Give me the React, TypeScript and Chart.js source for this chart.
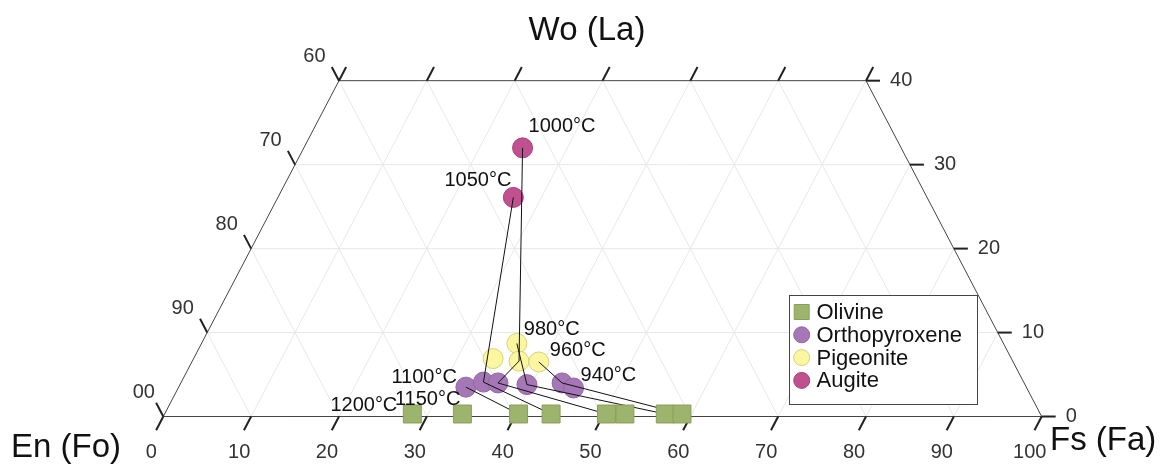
import React, { useEffect, useRef } from "react";
import { Chart, registerables } from "chart.js";
Chart.register(...registerables);

// ---- data (ternary compositions: Fs %, Wo %) ----
const olivineFs = [28.2, 33.9, 40.3, 44.0, 50.3, 52.4, 57.0, 58.9];
const olivineWo = [0.3, 0.3, 0.3, 0.3, 0.3, 0.3, 0.3, 0.3];
const opxFs = [32.7, 34.4, 36.1, 39.5, 43.4, 45.0];
const opxWo = [3.5, 4.1, 4.0, 3.8, 4.0, 3.4];
const pigFs = [34.1, 35.9, 37.2, 39.5];
const pigWo = [6.9, 8.7, 6.6, 6.5];
const augFs = [24.9, 26.8];
const augWo = [32.0, 26.1];

const seriesNames = ["Olivine", "Orthopyroxene", "Pigeonite", "Augite"];

// tie lines between coexisting phases: [phase, index]
const tieLines: [string, number][][] = [
  [["opx", 0], ["ol", 2]],
  [["aug", 1], ["opx", 1], ["ol", 3]],
  [["aug", 0], ["pig", 2], ["opx", 2], ["ol", 4]],
  [["pig", 1], ["opx", 3], ["ol", 6]],
  [["pig", 3], ["opx", 4], ["ol", 7]],
];

// temperature labels and the point each one belongs to
const tempLabels = ["1200°C", "1150°C", "1100°C", "1050°C", "1000°C", "980°C", "960°C", "940°C"];
const tempAnchors: [string, number][] = [
  ["ol", 0], ["ol", 1], ["opx", 0], ["aug", 1], ["aug", 0], ["pig", 1], ["pig", 3], ["opx", 5],
];

// axis tick labels
const fsTicks = [0, 10, 20, 30, 40, 50, 60, 70, 80, 90, 100];
const fsTopTicks = [0, 10, 20, 30, 40, 50, 60];
const enTicks = [60, 70, 80, 90, 100];
const woTicks = [0, 10, 20, 30, 40];
const gridSteps = [10, 20, 30, 40, 50, 60, 70, 80, 90];
const woGrid = [10, 20, 30];
const axisTitles = { top: "Wo (La)", left: "En (Fo)", right: "Fs (Fa)" };

// ---- helpers ----
const phaseFs: Record<string, number[]> = { ol: olivineFs, opx: opxFs, pig: pigFs, aug: augFs };
const phaseWo: Record<string, number[]> = { ol: olivineWo, opx: opxWo, pig: pigWo, aug: augWo };
const toXY = (fs: number, wo: number) => ({ x: fs + wo / 2, y: wo });
const phasePoints = (k: string) => phaseFs[k].map((f, i) => toXY(f, phaseWo[k][i]));

const FONT = '"Liberation Sans", Arial, sans-serif';

const colors = {
  ol: ["#9db46c", "#8a9f5b"],
  opx: ["#a677b6", "#9166a3"],
  pig: ["#fbf6a0", "#d8d07a"],
  aug: ["#c0508f", "#a6427b"],
};

const labelOffsets: { dx: number; dy: number; align: CanvasTextAlign }[] = [
  { dx: -15, dy: -9, align: "right" },
  { dx: -2, dy: -15, align: "right" },
  { dx: -9, dy: -10, align: "right" },
  { dx: -2, dy: -17, align: "right" },
  { dx: 6, dy: -21, align: "left" },
  { dx: 7, dy: -14, align: "left" },
  { dx: 11, dy: -11, align: "left" },
  { dx: 7, dy: -12, align: "left" },
];

const ternaryPlugin = {
  id: "ternary",
  beforeDatasetsDraw(chart: any) {
    const ctx: CanvasRenderingContext2D = chart.ctx;
    const xs = chart.scales.x;
    const ys = chart.scales.y;
    const P = (X: number, W: number) => ({ x: xs.getPixelForValue(X), y: ys.getPixelForValue(W) });
    const line = (a: any, b: any) => {
      ctx.beginPath();
      ctx.moveTo(a.x, a.y);
      ctx.lineTo(b.x, b.y);
      ctx.stroke();
    };
    ctx.save();
    // grid
    ctx.strokeStyle = "#e8e8e8";
    ctx.lineWidth = 1;
    woGrid.forEach((w) => line(P(w / 2, w), P(100 - w / 2, w)));
    gridSteps.forEach((f) => {
      const end = f <= 60 ? P(f + 20, 40) : P(f + (100 - f) / 2, 100 - f);
      line(P(f, 0), end);
    });
    gridSteps.forEach((e) => {
      const end = e <= 60 ? P(100 - e - 20, 40) : P((100 - e) / 2, 100 - e);
      line(P(100 - e, 0), end);
    });
    // frame
    const c0 = P(0, 0), c1 = P(20, 40), c2 = P(80, 40), c3 = P(100, 0);
    ctx.strokeStyle = "#444";
    ctx.lineWidth = 1;
    ctx.beginPath();
    ctx.moveTo(c0.x, c0.y);
    ctx.lineTo(c1.x, c1.y);
    ctx.lineTo(c2.x, c2.y);
    ctx.lineTo(c3.x, c3.y);
    ctx.closePath();
    ctx.stroke();
    // tick directions
    const unit = (a: any, b: any) => {
      const dx = b.x - a.x, dy = b.y - a.y;
      const l = Math.hypot(dx, dy);
      return { x: dx / l, y: dy / l };
    };
    const dL = unit(c0, c1); // up-right
    const dR = unit(c3, c2); // up-left
    const len = 15.5;
    ctx.strokeStyle = "#222";
    ctx.lineWidth = 2;
    ctx.fillStyle = "#333";
    ctx.font = `20px ${FONT}`;
    ctx.textBaseline = "middle";
    fsTicks.forEach((f) => {
      const s = P(f, 0);
      line(s, { x: s.x - dL.x * len, y: s.y - dL.y * len });
      ctx.textAlign = "center";
      ctx.fillText(String(f), s.x - 12, s.y + 36);
    });
    fsTopTicks.forEach((f) => {
      const s = P(f + 20, 40);
      line(s, { x: s.x + dL.x * len, y: s.y + dL.y * len });
    });
    enTicks.forEach((e) => {
      const w = 100 - e;
      const s = P(w / 2, w);
      line(s, { x: s.x + dR.x * len, y: s.y + dR.y * len });
      ctx.textAlign = "center";
      if (e === 100) {
        ctx.save();
        ctx.beginPath();
        ctx.rect(132, 0, 1168, 470);
        ctx.clip();
        ctx.fillText(String(e), s.x - 25, s.y - 24.5);
        ctx.restore();
      } else {
        ctx.fillText(String(e), s.x - 24.5, s.y - 24.5);
      }
    });
    woTicks.forEach((w) => {
      const s = P(100 - w / 2, w);
      line(s, { x: s.x + 14, y: s.y });
      ctx.textAlign = "left";
      ctx.fillText(String(w), s.x + 24, s.y);
    });
    // axis titles
    ctx.fillStyle = "#111";
    ctx.font = `33px ${FONT}`;
    ctx.textBaseline = "alphabetic";
    ctx.textAlign = "center";
    ctx.fillText(axisTitles.top, 587, 40);
    ctx.textAlign = "left";
    ctx.fillText(axisTitles.left, 11, 457);
    ctx.fillText(axisTitles.right, 1050, 450);
    ctx.restore();
  },
  afterDatasetsDraw(chart: any) {
    const ctx: CanvasRenderingContext2D = chart.ctx;
    const xs = chart.scales.x;
    const ys = chart.scales.y;
    ctx.save();
    // temperature labels
    ctx.fillStyle = "#111";
    ctx.font = `20px ${FONT}`;
    ctx.textBaseline = "middle";
    tempLabels.forEach((t, i) => {
      const [k, idx] = tempAnchors[i];
      const p = toXY(phaseFs[k][idx], phaseWo[k][idx]);
      const px = xs.getPixelForValue(p.x);
      const py = ys.getPixelForValue(p.y);
      const o = labelOffsets[i];
      ctx.textAlign = o.align;
      ctx.fillText(t, px + o.dx, py + o.dy);
    });
    // legend
    const bx = 789, by = 295, bw = 188, bh = 109;
    ctx.fillStyle = "#fff";
    ctx.fillRect(bx, by, bw, bh);
    ctx.strokeStyle = "#444";
    ctx.lineWidth = 1;
    ctx.strokeRect(bx + 0.5, by + 0.5, bw, bh);
    const keys = ["ol", "opx", "pig", "aug"];
    ctx.font = `22px ${FONT}`;
    ctx.textAlign = "left";
    keys.forEach((k, i) => {
      const cy = by + 17 + i * 22.8;
      const cx = bx + 12.7;
      const [fill, border] = (colors as any)[k];
      ctx.fillStyle = fill;
      ctx.strokeStyle = border;
      ctx.lineWidth = 1;
      ctx.beginPath();
      if (k === "ol") ctx.rect(cx - 7.5, cy - 7.5, 15, 15);
      else ctx.arc(cx, cy, 8, 0, Math.PI * 2);
      ctx.fill();
      ctx.stroke();
      ctx.fillStyle = "#111";
      ctx.fillText(seriesNames[i], bx + 27.5, cy + 1);
    });
    ctx.restore();
  },
};

export default function App() {
  const ref = useRef<HTMLCanvasElement>(null);
  useEffect(() => {
    const tieDatasets = tieLines.map((tl) => ({
      type: "line" as const,
      label: "tie",
      data: tl.map(([k, i]) => toXY(phaseFs[k][i], phaseWo[k][i])),
      showLine: true,
      borderColor: "#111",
      borderWidth: 1,
      pointRadius: 0,
      fill: false,
      order: 2,
    }));
    const chart = new Chart(ref.current as HTMLCanvasElement, {
      type: "scatter",
      data: {
        datasets: [
          {
            label: seriesNames[0],
            data: phasePoints("ol"),
            pointStyle: "rect",
            pointRadius: 12.7,
            backgroundColor: colors.ol[0],
            borderColor: colors.ol[1],
            borderWidth: 1,
            order: 1,
          },
          ...tieDatasets,
          {
            label: seriesNames[1],
            data: phasePoints("opx"),
            pointRadius: 10,
            backgroundColor: colors.opx[0],
            borderColor: colors.opx[1],
            borderWidth: 1,
            order: 3,
          },
          {
            label: seriesNames[2],
            data: phasePoints("pig"),
            pointRadius: 10,
            backgroundColor: colors.pig[0],
            borderColor: colors.pig[1],
            borderWidth: 1,
            order: 4,
          },
          {
            label: seriesNames[3],
            data: phasePoints("aug"),
            pointRadius: 10,
            backgroundColor: colors.aug[0],
            borderColor: colors.aug[1],
            borderWidth: 1,
            order: 3,
          },
        ] as any,
      },
      options: {
        animation: false,
        responsive: false,
        devicePixelRatio: 1,
        layout: { padding: 0, autoPadding: false },
        events: [],
        plugins: { legend: { display: false }, tooltip: { enabled: false }, title: { display: false } },
        scales: {
          x: { type: "linear", display: false, min: -18.59, max: 114.38 },
          y: { type: "linear", display: false, min: -6.37, max: 49.61 },
        },
      },
      plugins: [ternaryPlugin],
    });
    return () => chart.destroy();
  }, []);
  return (
    <div style={{ position: "absolute", left: 0, top: 0, width: 1168, height: 470, background: "#fff" }}>
      <canvas ref={ref} width={1168} height={470} style={{ display: "block" }} />
    </div>
  );
}
